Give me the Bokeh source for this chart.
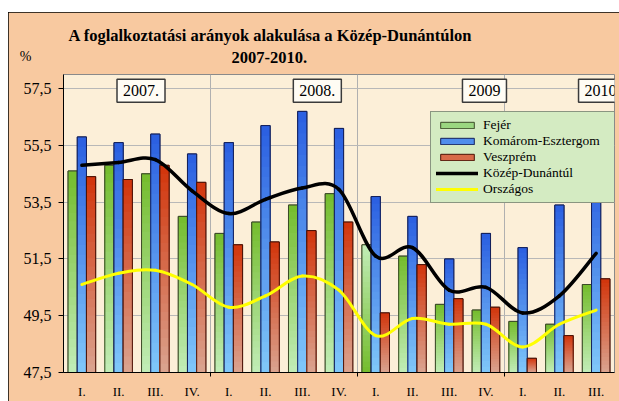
import numpy as np
from bokeh.plotting import figure
from bokeh.models import (ColumnDataSource, FixedTicker, CustomJSTickFormatter, Legend,
                          LegendItem, Label, Title, Range1d)
from bokeh.embed import file_html
from bokeh.resources import INLINE

# ---------------- data ----------------
quarters = ["I.", "II.", "III.", "IV.", "I.", "II.", "III.", "IV.",
            "I.", "II.", "III.", "IV.", "I.", "II.", "III."]
year_labels = ["2007.", "2008.", "2009", "2010"]
fejer = [54.6, 54.8, 54.5, 53.0, 52.4, 52.8, 53.4, 53.8, 52.0, 51.6, 49.9, 49.7, 49.3, 49.2, 50.6]
komarom = [55.8, 55.6, 55.9, 55.2, 55.6, 56.2, 56.7, 56.1, 53.7, 53.0, 51.5, 52.4, 51.9, 53.4, 54.3]
veszprem = [54.4, 54.3, 54.8, 54.2, 52.0, 52.1, 52.5, 52.8, 49.6, 51.3, 50.1, 49.8, 48.0, 48.8, 50.8]
kozep = [54.8, 54.9, 55.0, 53.9, 53.1, 53.6, 54.0, 53.95, 51.6, 51.9, 50.4, 50.5, 49.6, 50.2, 51.7]
orszagos = [50.6, 51.0, 51.1, 50.6, 49.8, 50.2, 50.9, 50.4, 48.8, 49.4, 49.2, 49.2, 48.4, 49.2, 49.7]
y_ticks = [47.5, 49.5, 51.5, 53.5, 55.5, 57.5]
Y_MIN, Y_MAX = 47.5, 58.0

SERIF = "Liberation Serif"

p = figure(width=611, height=389, margin=(12, 0, 0, 8),
           output_backend="svg", toolbar_location=None,
           x_range=Range1d(0, 15), y_range=Range1d(Y_MIN, Y_MAX),
           min_border_left=55, min_border_right=5, min_border_top=62, min_border_bottom=28,
           styles={"outline": "1px solid #000000", "outline-offset": "-1px"})
p.border_fill_color = "#F8C9A0"
p.background_fill_color = "#FCEFD8"
p.outline_line_color = "#8A8A8A"
p.outline_line_width = 1

# ---------------- axes ----------------
p.yaxis.ticker = FixedTicker(ticks=y_ticks)
p.yaxis.formatter = CustomJSTickFormatter(code="return tick.toFixed(1).replace('.', ',')")
p.yaxis.major_tick_out = 5
p.yaxis.major_tick_in = 0
p.yaxis.minor_tick_line_color = None
p.yaxis.axis_line_color = "black"
p.yaxis.major_tick_line_color = "black"
p.yaxis.major_label_text_font = SERIF
p.yaxis.major_label_text_font_size = "16px"
p.yaxis.major_label_text_color = "black"
p.yaxis.major_label_standoff = 7
p.yaxis.axis_label = "%\n \n "
p.yaxis.axis_label_orientation = "horizontal"
p.yaxis.axis_label_align = "end"
p.yaxis.axis_label_standoff = -11
p.yaxis.axis_label_text_font = SERIF
p.yaxis.axis_label_text_font_size = "14px"
p.yaxis.axis_label_text_font_style = "normal"
p.yaxis.axis_label_text_color = "black"

centers = [i + 0.5 for i in range(len(quarters))]
p.xaxis.ticker = FixedTicker(ticks=centers, minor_ticks=[4, 8, 12])
p.xaxis.formatter = CustomJSTickFormatter(args=dict(labels=quarters),
                                          code="return labels[Math.floor(tick)]")
p.xaxis.major_tick_out = 0
p.xaxis.major_tick_in = 0
p.xaxis.minor_tick_out = 4
p.xaxis.minor_tick_in = 0
p.xaxis.minor_tick_line_color = "black"
p.xaxis.axis_line_color = "black"
p.xaxis.major_label_text_font = SERIF
p.xaxis.major_label_text_font_size = "13px"
p.xaxis.major_label_text_color = "black"
p.xaxis.major_label_standoff = 7

p.ygrid.ticker = FixedTicker(ticks=y_ticks)
p.ygrid.grid_line_color = "#B8B8B8"
p.xgrid.ticker = FixedTicker(ticks=[4, 8, 12])
p.xgrid.grid_line_color = "#B0B0B0"

# ---------------- gradient bars ----------------
def hex2rgb(h):
    h = h.lstrip("#")
    return np.array([int(h[i:i + 2], 16) for i in (0, 2, 4)], dtype=float)

def mix(c_bot, c_top, t):
    a, b = hex2rgb(c_bot), hex2rgb(c_top)
    c = a + (b - a) * t
    return "#%02x%02x%02x" % tuple(int(round(v)) for v in c)

BAR_W = 0.25
N_LAYERS = 24
series = [
    # values, offset, bottom colour, top colour, outline, legend colour, name, bars with reversed shading
    (fejer, -BAR_W, "#C2EDB8", "#74BC2C", "#3C4A28", "#9AD680", "Fejér", {8}),
    (komarom, 0.0, "#80C8FA", "#2A5EE0", "#14205A", "#4F8EEC", "Komárom-Esztergom", set()),
    (veszprem, BAR_W, "#DAA490", "#D2340A", "#4A1206", "#D86A48", "Veszprém", set()),
]
legend_items = []
for vals, off, c_bot, c_top, c_line, c_leg, name, flipped in series:
    bsrc = ColumnDataSource(dict(x=[c + off for c in centers], top=vals))
    base = p.vbar(x="x", top="top", bottom=Y_MIN, width=BAR_W, fill_color=c_leg,
                  line_color=c_line, line_width=1, source=bsrc)
    xs, tops, cols = [], [], []
    for k in range(N_LAYERS):
        f_hi = 1 - k / N_LAYERS
        f_lo = 1 - (k + 1) / N_LAYERS
        t = (f_hi + f_lo) / 2
        for i, v in enumerate(vals):
            xs.append(centers[i] + off)
            tops.append(Y_MIN + f_hi * (v - Y_MIN))
            cols.append(mix(c_bot, c_top, 1 - t if i in flipped else t))
    src = ColumnDataSource(dict(x=xs, top=tops, color=cols))
    p.vbar(x="x", top="top", bottom=Y_MIN, width=BAR_W, fill_color="color",
           line_color=None, source=src)
    p.vbar(x="x", top="top", bottom=Y_MIN, width=BAR_W, fill_color=None,
           line_color=c_line, line_width=1, source=bsrc)
    legend_items.append(LegendItem(label=name, renderers=[base]))

# ---------------- smoothed lines (bezier) ----------------
def bezier_segments(xv, yv):
    P = np.column_stack([xv, yv]).astype(float)
    n = len(P)
    out = dict(x0=[], y0=[], x1=[], y1=[], cx0=[], cy0=[], cx1=[], cy1=[])
    for i in range(n - 1):
        p0 = P[i - 1] if i > 0 else P[i]
        p1, p2 = P[i], P[i + 1]
        p3 = P[i + 2] if i + 2 < n else P[i + 1]
        c1 = p1 + (p2 - p0) / 6
        c2 = p2 - (p3 - p1) / 6
        out["x0"].append(p1[0]); out["y0"].append(p1[1])
        out["x1"].append(p2[0]); out["y1"].append(p2[1])
        out["cx0"].append(c1[0]); out["cy0"].append(c1[1])
        out["cx1"].append(c2[0]); out["cy1"].append(c2[1])
    return ColumnDataSource(out)

for vals, color, name, lw in [(kozep, "#000000", "Közép-Dunántúl", 3.5),
                              (orszagos, "#FFFF00", "Országos", 3)]:
    r = p.bezier(x0="x0", y0="y0", x1="x1", y1="y1", cx0="cx0", cy0="cy0", cx1="cx1", cy1="cy1",
                 source=bezier_segments(centers, vals), line_color=color, line_width=lw,
                 line_cap="round")
    legend_items.append(LegendItem(label=name, renderers=[r]))

# ---------------- year boxes ----------------
for txt, xpos in zip(year_labels, [2.11, 6.91, 11.46, 14.62]):
    p.add_layout(Label(x=xpos, y=57.43, text=txt, text_align="center", text_baseline="middle",
                       text_font=SERIF, text_font_size="16px", text_color="black",
                       background_fill_color="#FFFCF4", border_line_color="#3A3A3A",
                       border_line_width=1.5, padding=6))

# ---------------- legend ----------------
legend = Legend(items=legend_items, location=(367, 169), orientation="vertical",
                background_fill_color="#D4EBC2", background_fill_alpha=1.0,
                border_line_color="#404040", border_line_width=1,
                label_text_font=SERIF, label_text_font_size="13.5px", label_text_color="black",
                label_standoff=5, glyph_width=42, glyph_height=8, label_height=14,
                label_width=130, spacing=0, padding=5, margin=0)
p.add_layout(legend)

# ---------------- titles ----------------
p.add_layout(Title(text="2007-2010.", align="left", offset=168, text_font=SERIF,
                   text_font_size="16.5px", text_font_style="bold", text_color="black",
                   standoff=23), "above")
p.add_layout(Title(text="A foglalkoztatási arányok alakulása a Közép-Dunántúlon", align="left",
                   offset=5, text_font=SERIF, text_font_size="16.5px", text_font_style="bold",
                   text_color="black", standoff=-12), "above")

open("out.html", "w").write(file_html(p, INLINE))
